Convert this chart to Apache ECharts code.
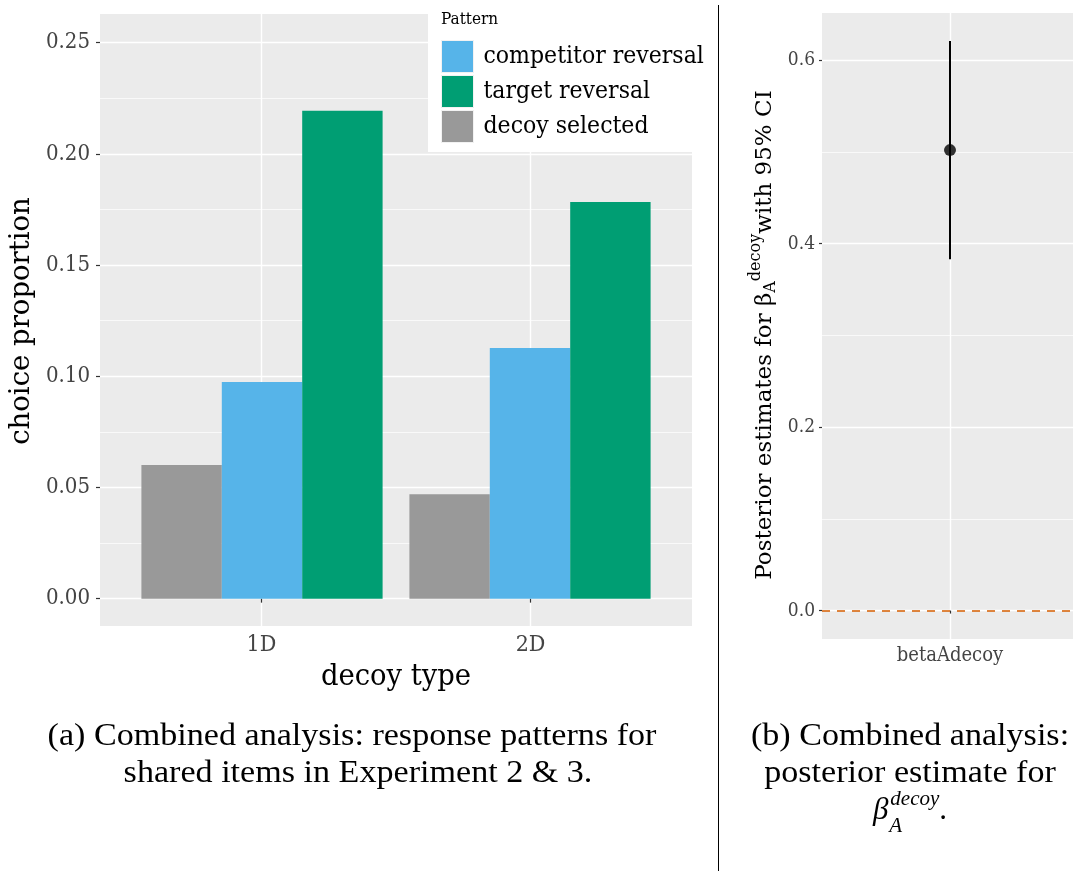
<!DOCTYPE html>
<html><head><meta charset="utf-8">
<script src="https://cdn.jsdelivr.net/npm/echarts@6/dist/echarts.min.js"></script>
<style>html,body{margin:0;padding:0;background:#fff}#c{width:1073px;height:871px}</style>
</head><body><div id="c"></div>
<script>
// ---------- data ----------
const decoyTypes = ['1D', '2D'];
const legendOrder = ['competitor reversal', 'target reversal', 'decoy selected'];
const decoySelected = [0.0601, 0.0470];
const competitorReversal = [0.0974, 0.1127];
const targetReversal = [0.2194, 0.1784];
const leftMajorTicks = [0, 0.05, 0.10, 0.15, 0.20, 0.25];
const leftMinorTicks = [0.025, 0.075, 0.125, 0.175, 0.225];
const paramNames = ['betaAdecoy'];
const estimate = [0.502];
const ciLower = [0.383];
const ciUpper = [0.621];
const rightMajorTicks = [0, 0.2, 0.4, 0.6];
const rightMinorTicks = [0.1, 0.3, 0.5];

// ---------- helpers ----------
const SERIF = 'DejaVu Serif';
const COND = 'DejaVu Serif Condensed';
const CM = 'Liberation Serif';
const mctx = document.createElement('canvas').getContext('2d');
function tw(text, size, family, style) {
  mctx.font = (style || 'normal') + ' ' + size + 'px "' + family + '"';
  return mctx.measureText(text).width;
}
const PANEL = '#ebebeb';
const TICK = '#333333';
const LAB = '#444444';

// ---------- right axis title (rotated, with sub/superscript) ----------
const tMain = 23, tSmall = 16;
const p1 = 'Posterior estimates for ', p2 = 'β', p3 = 'A', p4 = 'decoy', p5 = 'with 95% CI';
const x1 = tw(p1, tMain, SERIF);
const x2 = x1 + tw(p2, tMain, SERIF);
const x3 = x2 + tw(p3, tSmall, SERIF);
const x4 = x3 + tw(p4, tSmall, SERIF);
const totalLen = x4 + tw(p5, tMain, SERIF);
function rt(text, x, y, size) {
  return {type: 'text', x: x, y: y, style: {text: text, fontFamily: SERIF, fontSize: size, fill: '#000', align: 'left', verticalAlign: 'middle'}};
}
const rightTitle = {
  type: 'group', x: 765, y: 335 + totalLen / 2, rotation: Math.PI / 2,
  children: [rt(p1, 0, 0, tMain), rt(p2, x1, 0, tMain), rt(p3, x2, 6, tSmall), rt(p4, x3, -9, tSmall), rt(p5, x4, 0, tMain)]
};

// ---------- caption b line 3 ----------
const capSize = 31, capScale = 1.1;
const bw = tw('β', capSize, CM, 'italic');
const dw = tw('decoy', 21, CM, 'italic');
const cap3W = bw + 2 + dw + tw('.', capSize, CM);
const c3x = 910 - cap3W / 2;
function cap(text, x, y, size) {
  return {type: 'text', x: x, y: y, scaleX: capScale, style: {text: text, fontFamily: CM, fontSize: size, fill: '#000', align: 'center', verticalAlign: 'middle'}};
}

const chart = echarts.init(document.getElementById('c'), null, {renderer: 'canvas'});

const hiddenAxisParts = {axisLine: {show: false}, axisTick: {show: false}, axisLabel: {show: false}};

chart.setOption({
  animation: false,
  backgroundColor: '#fff',
  grid: [
    {left: 100, top: 14, width: 592, height: 612, show: true, backgroundColor: PANEL, borderWidth: 0, containLabel: false, outerBoundsMode: 'none'},
    {left: 128, top: 14, width: 536, height: 612, show: false, containLabel: false, outerBoundsMode: 'none'},
    {left: 822, top: 13, width: 251, height: 626, show: true, backgroundColor: PANEL, borderWidth: 0, containLabel: false, outerBoundsMode: 'none'}
  ],
  xAxis: [
    {gridIndex: 0, type: 'value', min: 0.4, max: 2.6,
     axisLine: {show: false},
     axisTick: {show: true, customValues: [1, 2], length: 4, lineStyle: {color: TICK, width: 1.2}},
     axisLabel: {customValues: [1, 2], formatter: v => decoyTypes[Math.round(v) - 1], fontFamily: COND, fontSize: 23, color: LAB, margin: 8},
     splitLine: {show: true, lineStyle: {color: '#fff', width: 1.4}}},
    {gridIndex: 1, type: 'category', data: decoyTypes, show: false},
    {gridIndex: 2, type: 'value', min: 0.4, max: 0.4 + 0.6 * 251 / 128,
     axisLine: {show: false},
     axisTick: {show: true, customValues: [1], length: 3, lineStyle: {color: TICK, width: 1.2}},
     axisLabel: {customValues: [1], formatter: v => paramNames[Math.round(v) - 1], fontFamily: COND, fontSize: 20, color: LAB, margin: 7},
     splitLine: {show: true, lineStyle: {color: '#fff', width: 1.4}}}
  ],
  yAxis: [
    {gridIndex: 0, type: 'value', min: -0.0123, max: 0.2629,
     axisLine: {show: false},
     axisTick: {show: true, customValues: leftMajorTicks, length: 4, lineStyle: {color: TICK, width: 1.2}},
     axisLabel: {customValues: leftMajorTicks, formatter: v => v.toFixed(2), fontFamily: COND, fontSize: 22, color: LAB, margin: 10},
     splitLine: {show: true, lineStyle: {color: '#fff', width: 1.4}}},
    Object.assign({gridIndex: 0, type: 'value', min: -0.0123, max: 0.2629,
     splitLine: {show: true, lineStyle: {color: '#fff', width: 0.7}}}, hiddenAxisParts,
     {axisTick: {show: false, customValues: leftMinorTicks}}),
    {gridIndex: 1, type: 'value', min: -0.0123, max: 0.2629, show: false},
    {gridIndex: 2, type: 'value', min: -0.031, max: 0.6515,
     axisLine: {show: false},
     axisTick: {show: true, customValues: rightMajorTicks, length: 3, lineStyle: {color: TICK, width: 1.2}},
     axisLabel: {customValues: rightMajorTicks, formatter: v => v.toFixed(1), fontFamily: COND, fontSize: 19, color: LAB, margin: 7},
     splitLine: {show: true, lineStyle: {color: '#fff', width: 1.4}}},
    Object.assign({gridIndex: 2, type: 'value', min: -0.031, max: 0.6515,
     splitLine: {show: true, lineStyle: {color: '#fff', width: 0.7}}}, hiddenAxisParts,
     {axisTick: {show: false, customValues: rightMinorTicks}})
  ],
  legend: {
    data: legendOrder, orient: 'vertical', left: 441, top: 40, padding: 0,
    itemWidth: 32, itemHeight: 32, itemGap: 2, icon: 'rect', selectedMode: false, z: 10,
    itemStyle: {borderColor: '#f2f2f2', borderWidth: 1},
    textStyle: {fontFamily: COND, fontSize: 24.5, color: '#000', padding: [0, 0, 0, 5]}
  },
  series: [
    {name: 'decoy selected', type: 'bar', xAxisIndex: 1, yAxisIndex: 2, data: decoySelected,
     itemStyle: {color: '#999999'}, barGap: '0%', barCategoryGap: '10%'},
    {name: 'competitor reversal', type: 'bar', xAxisIndex: 1, yAxisIndex: 2, data: competitorReversal,
     itemStyle: {color: '#56B4E9'}, barGap: '0%', barCategoryGap: '10%'},
    {name: 'target reversal', type: 'bar', xAxisIndex: 1, yAxisIndex: 2, data: targetReversal,
     itemStyle: {color: '#009E73'}, barGap: '0%', barCategoryGap: '10%'},
    {name: 'CI', type: 'custom', xAxisIndex: 2, yAxisIndex: 3,
     data: paramNames.map((n, i) => [i + 1, ciLower[i], ciUpper[i]]),
     renderItem: function (params, api) {
       const a = api.coord([api.value(0), api.value(1)]);
       const b = api.coord([api.value(0), api.value(2)]);
       return {type: 'line', shape: {x1: a[0], y1: a[1], x2: b[0], y2: b[1]}, style: {stroke: '#000', lineWidth: 2}};
     }, z: 3},
    {name: 'estimate', type: 'scatter', xAxisIndex: 2, yAxisIndex: 3,
     data: paramNames.map((n, i) => [i + 1, estimate[i]]),
     symbolSize: 12, itemStyle: {color: '#000'}, z: 4,
     markLine: {silent: true, symbol: 'none', label: {show: false},
       lineStyle: {color: '#D55E00', type: [8, 7], width: 1.5},
       data: [{yAxis: 0}]}}
  ],
  graphic: [
    {type: 'rect', z: 5, shape: {x: 428, y: 9, width: 290, height: 143}, style: {fill: '#fff'}},
    {type: 'rect', z: 20, shape: {x: 705, y: 0, width: 12, height: 160}, style: {fill: '#fff'}},
    {type: 'text', z: 21, x: 441, y: 20, style: {text: 'Pattern', fontFamily: COND, fontSize: 17, fill: '#000', align: 'left', verticalAlign: 'middle'}},
    {type: 'text', x: 22, y: 321, rotation: Math.PI / 2, style: {text: 'choice proportion', fontFamily: SERIF, fontSize: 27.5, fill: '#000', align: 'center', verticalAlign: 'middle'}},
    {type: 'text', x: 396, y: 677, style: {text: 'decoy type', fontFamily: COND, fontSize: 30.5, fill: '#000', align: 'center', verticalAlign: 'middle'}},
    rightTitle,
    {type: 'line', shape: {x1: 718.5, y1: 5, x2: 718.5, y2: 871}, style: {stroke: '#000', lineWidth: 1}},
    cap('(a) Combined analysis: response patterns for', 352, 737, capSize),
    cap('shared items in Experiment 2 & 3.', 358, 774, capSize),
    cap('(b) Combined analysis:', 910, 737, capSize),
    cap('posterior estimate for', 910, 774, capSize),
    {type: 'text', x: c3x, y: 811, style: {text: 'β', fontFamily: CM, fontSize: capSize, fontStyle: 'italic', fill: '#000', align: 'left', verticalAlign: 'middle'}},
    {type: 'text', x: c3x + bw + 2, y: 799, style: {text: 'decoy', fontFamily: CM, fontSize: 21, fontStyle: 'italic', fill: '#000', align: 'left', verticalAlign: 'middle'}},
    {type: 'text', x: c3x + bw + 1, y: 826, style: {text: 'A', fontFamily: CM, fontSize: 21, fontStyle: 'italic', fill: '#000', align: 'left', verticalAlign: 'middle'}},
    {type: 'text', x: c3x + bw + 2 + dw, y: 811, style: {text: '.', fontFamily: CM, fontSize: capSize, fill: '#000', align: 'left', verticalAlign: 'middle'}}
  ]
});
</script>
</body></html>
